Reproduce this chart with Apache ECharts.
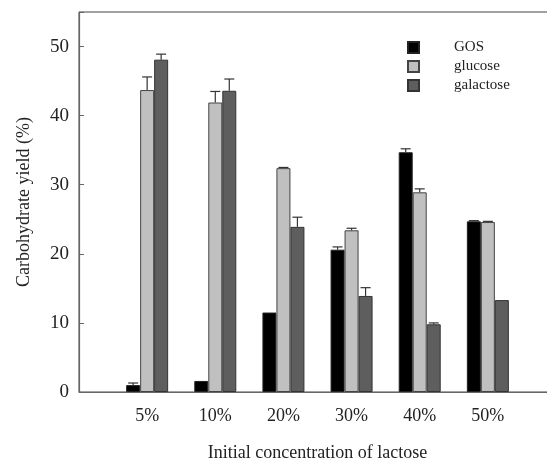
<!DOCTYPE html>
<html>
<head>
<meta charset="utf-8">
<script src="https://cdn.jsdelivr.net/npm/echarts@6/dist/echarts.min.js"></script>
<style>html,body{margin:0;padding:0;background:#fff;}#c{width:547px;height:460px;}</style>
</head>
<body>
<div id="c"></div>
<script>
var categories = ['', '5%', '10%', '20%', '30%', '40%', '50%', ''];
var gos = [1.0, 1.6, 11.5, 20.6, 34.7, 24.7];
var gosErr = [0.3, 0, 0, 0.4, 0.5, 0.1];
var glucose = [43.7, 41.9, 32.4, 23.4, 28.9, 24.6];
var glucoseErr = [1.9, 1.6, 0.1, 0.3, 0.5, 0.1];
var galactose = [48.1, 43.6, 23.9, 13.9, 9.8, 13.3];
var galactoseErr = [0.8, 1.7, 1.4, 1.2, 0.2, 0];
var yTicks = [0, 10, 20, 30, 40, 50];

var FONT = '"Liberation Serif", "Times New Roman", serif';
function pad(arr) { return [null].concat(arr, [null]); }
function errData(vals, errs) {
  return vals.map(function (v, i) { return [i + 1, v, errs[i]]; });
}
function errSeries(vals, errs, offset) {
  return {
    type: 'custom',
    silent: true,
    z: 5,
    data: errData(vals, errs),
    renderItem: function (params, api) {
      var e = api.value(2);
      if (!e) return null;
      var base = api.coord([api.value(0), api.value(1)]);
      var top = api.coord([api.value(0), api.value(1) + e]);
      var x = base[0] + offset;
      var style = { stroke: '#333', lineWidth: 1.2 };
      return {
        type: 'group',
        children: [
          { type: 'line', shape: { x1: x, y1: base[1], x2: x, y2: top[1] }, style: style },
          { type: 'line', shape: { x1: x - 5, y1: top[1], x2: x + 5, y2: top[1] }, style: style }
        ]
      };
    }
  };
}

var chart = echarts.init(document.getElementById('c'));
chart.setOption({
  backgroundColor: '#fff',
  animation: false,
  grid: { left: 79, top: 12, width: 477, height: 380, containLabel: false, outerBoundsMode: 'none',
          show: true, borderColor: '#444', borderWidth: 1 },
  legend: {
    orient: 'vertical',
    left: 402, top: 35,
    icon: 'rect',
    itemWidth: 11, itemHeight: 11, itemGap: 4,
    data: ['GOS', 'glucose', 'galactose'],
    textStyle: { fontFamily: FONT, fontSize: 15, color: '#222', padding: [0, 0, 0, 30] }
  },
  xAxis: {
    type: 'category',
    data: categories,
    boundaryGap: false,
    axisLine: { lineStyle: { color: '#666', width: 1.2 } },
    axisTick: { show: false },
    axisLabel: { fontFamily: FONT, fontSize: 18, color: '#222', margin: 15, interval: 0 },
    name: 'Initial concentration of lactose',
    nameLocation: 'middle',
    nameGap: 52,
    nameTextStyle: { fontFamily: FONT, fontSize: 18, color: '#222' }
  },
  yAxis: {
    type: 'value',
    min: 0, max: 55, interval: 10,
    axisLine: { show: true, lineStyle: { color: '#666', width: 1.2 } },
    axisTick: { show: true, inside: true, length: 5, lineStyle: { color: '#666' } },
    splitLine: { show: false },
    axisLabel: {
      fontFamily: FONT, fontSize: 19, color: '#222', margin: 10,
      formatter: function (v) { return yTicks.indexOf(v) >= 0 ? String(v) : ''; }
    },
    name: 'Carbohydrate yield (%)',
    nameLocation: 'middle',
    nameGap: 46,
    nameTextStyle: { fontFamily: FONT, fontSize: 18, color: '#222' }
  },
  series: [
    { name: 'GOS', type: 'bar', data: pad(gos), barWidth: 14, barGap: '0%',
      itemStyle: { color: '#000', borderColor: '#222', borderWidth: 1 } },
    { name: 'glucose', type: 'bar', data: pad(glucose), barWidth: 14, barGap: '0%',
      itemStyle: { color: '#c0c0c0', borderColor: '#444', borderWidth: 1 } },
    { name: 'galactose', type: 'bar', data: pad(galactose), barWidth: 14, barGap: '0%',
      itemStyle: { color: '#5e5e5e', borderColor: '#333', borderWidth: 1 } },
    errSeries(gos, gosErr, -14),
    errSeries(glucose, glucoseErr, 0),
    errSeries(galactose, galactoseErr, 14)
  ]
});
</script>
</body>
</html>
